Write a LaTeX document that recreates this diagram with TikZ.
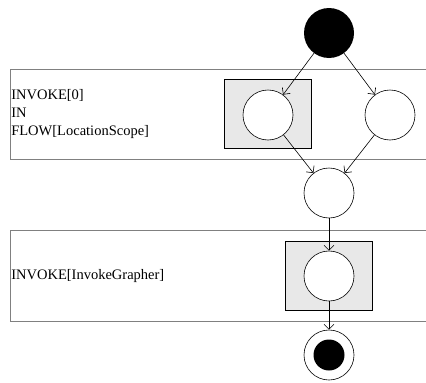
\documentclass[tikz,border=0pt]{standalone}
\usepackage{fontspec}
\setmainfont{Liberation Serif}
\usepackage{tikz}
\usetikzlibrary{positioning,arrows.meta}

\tikzset{
  actnode/.style={circle,draw,fill=white,minimum size=50pt,inner sep=0pt},
  startnode/.style={circle,fill=black,minimum size=50pt,inner sep=0pt},
  endnode/.style={circle,draw,fill=white,minimum size=50pt,inner sep=0pt,
    path picture={\fill[black] (path picture bounding box.center) circle (15.5pt);}},
  invbox/.style={draw,fill=gray!18,minimum width=87pt,minimum height=69pt,inner sep=0pt},
  lane/.style={draw=gray,line width=0.6pt},
  lanetext/.style={align=left,anchor=west,inner sep=0pt,font=\fontsize{14.5}{18}\selectfont},
  flow/.style={-{Straight Barb[length=5pt,width=10pt]},line width=0.6pt}
}

\begin{document}
\begin{tikzpicture}[x=1pt,y=-1pt,every node/.style={on grid},line width=0.6pt]
    \useasboundingbox (0,0) rectangle (426,383);
    % swimlanes
    \draw[lane] (426,69) -- (10,69) -- (10,159) -- (426,159);
    \draw[lane] (426,230) -- (10,230) -- (10,321) -- (426,321);
    \node[lanetext] (lane1) at (11,114) {INVOKE[0]\\IN\\FLOW[LocationScope]};
    \node[lanetext] (lane2) at (11,276) {INVOKE[InvokeGrapher]};

    \node[startnode] (start) at (329,33) {};
    \node[invbox] (box1) at (268,114) {};
    \node[actnode] (act1) at (268,115) {};
    \node[actnode, right=122pt of act1] (act2) {};
    \node[actnode] (merge) at (329,193) {};
    \node[invbox, below=83pt of merge] (box2) {};
    \node[actnode, below=83pt of merge] (grapher) {};
    \node[endnode, below=79pt of grapher] (final) {};

    \draw[flow] (start) -- (act1);
    \draw[flow] (start) -- (act2);
    \draw[flow] (act1) -- (merge);
    \draw[flow] (act2) -- (merge);
    \draw[flow] (merge) -- (grapher);
    \draw[flow] (grapher) -- (final);
  \end{tikzpicture}
\end{document}
